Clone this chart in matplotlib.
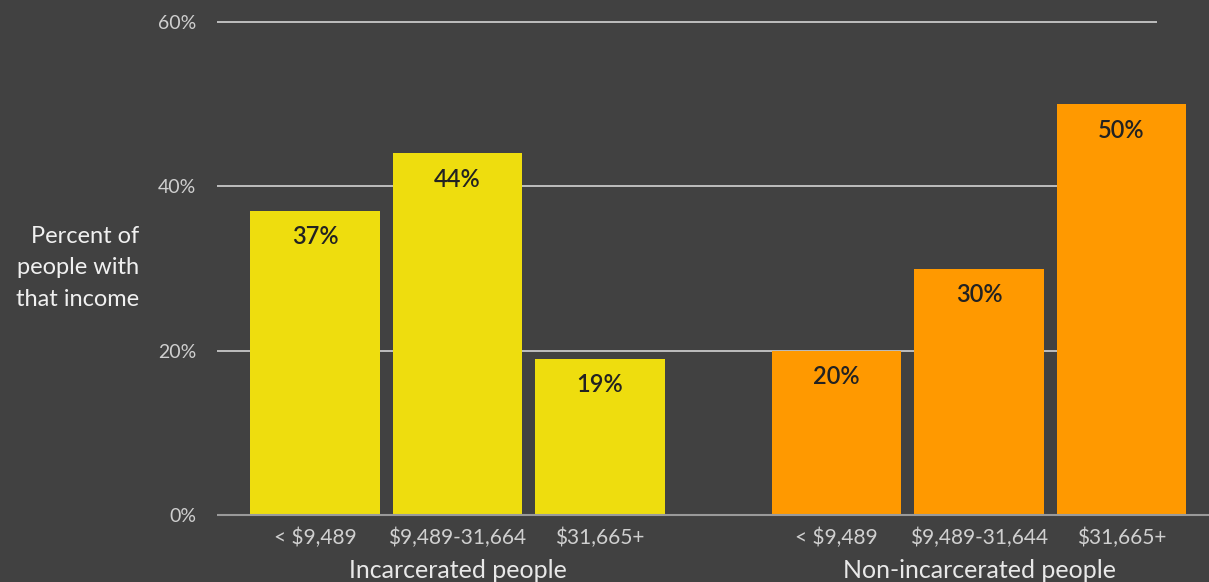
import matplotlib
matplotlib.use("Agg")
import matplotlib.pyplot as plt
from matplotlib.transforms import blended_transform_factory

# ---- data ----
groups = ["Incarcerated people", "Non-incarcerated people"]
categories_incarcerated = ["< $9,489", "$9,489-31,664", "$31,665+"]
categories_non = ["< $9,489", "$9,489-31,644", "$31,665+"]
values_incarcerated = [37, 44, 19]
values_non = [20, 30, 50]
yticks = [0, 20, 40, 60]
ytick_labels = ["0%", "20%", "40%", "60%"]

# ---- style ----
BG = "#414141"
YELLOW = "#EEDD0E"
ORANGE = "#FF9900"
FONT = ["Lato", "DejaVu Sans"]

W, H = 1209, 582
fig = plt.figure(figsize=(W / 100, H / 100), dpi=100, facecolor=BG)
ax = fig.add_axes([217 / W, (H - 515) / H, (W - 217) / W, (515 - 22) / H])
ax.set_facecolor(BG)

gap = 1.66
pos_inc = [0, 1, 2]
pos_non = [2 + gap, 3 + gap, 4 + gap]
width = 0.91

ax.set_xlim(-0.688, 6.274)
ax.set_ylim(0, 60)

# gridlines
for t in yticks[1:]:
    ax.hlines(t, -0.688, 5.909, color="#c8c8c8", lw=1.3, zorder=1, clip_on=False)
ax.hlines(0, -0.688, 6.274, color="#9a9a9a", lw=1.5, zorder=3, clip_on=False)

b1 = ax.bar(pos_inc, values_incarcerated, width=width, color=YELLOW, zorder=2)
b2 = ax.bar(pos_non, values_non, width=width, color=ORANGE, zorder=2)

for bars, vals in ((b1, values_incarcerated), (b2, values_non)):
    for r, v in zip(bars, vals):
        ax.annotate(f"{v}%", (r.get_x() + r.get_width() / 2, v),
                    xytext=(0, -26), textcoords="offset pixels",
                    ha="center", va="center", fontsize=17, color="#222222",
                    family=FONT, fontweight="semibold", zorder=4)

for s in ax.spines.values():
    s.set_visible(False)

ax.set_yticks(yticks)
ax.set_yticklabels(ytick_labels, family=FONT, fontsize=14, color="#cfcfcf")
ax.set_xticks(pos_inc + pos_non)
ax.set_xticklabels(categories_incarcerated + categories_non, family=FONT,
                   fontsize=15, color="#d0d0d0")
ax.tick_params(axis="y", length=0, pad=15)
ax.tick_params(axis="x", length=0, pad=9)

trans = blended_transform_factory(ax.transData, fig.transFigure)
ax.text(1, (H - 570) / H, groups[0], transform=trans, ha="center", va="center",
        fontsize=18, color="#e8e8e8", family=FONT)
ax.text(3 + gap, (H - 570) / H, groups[1], transform=trans, ha="center", va="center",
        fontsize=18, color="#e8e8e8", family=FONT)

fig.text(139 / W, (H - 268) / H, "Percent of\npeople with\nthat income",
         ha="right", va="center", fontsize=17, color="#f0f0f0", family=FONT,
         linespacing=1.6)

fig.savefig("out.png", dpi=100, facecolor=BG)
